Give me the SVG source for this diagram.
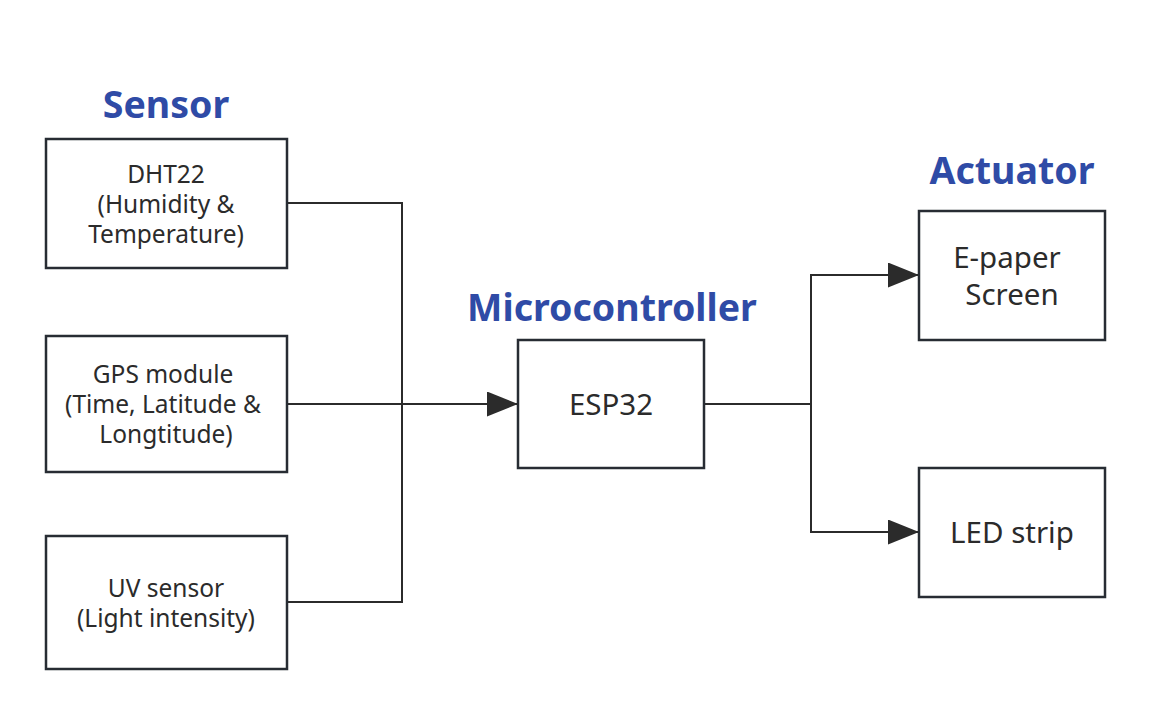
<svg xmlns="http://www.w3.org/2000/svg" width="1152" height="716" viewBox="0 0 1152 716">
<style>
.box{fill:#fff;stroke:#272c33;stroke-width:2.5}
.t{font-family:"Noto Sans","Open Sans","Liberation Sans",sans-serif;fill:#2b2b2b;text-anchor:middle}
.s{font-size:24.5px}
.m{font-size:29.5px}
.h{font-family:"Noto Sans","Open Sans","Liberation Sans",sans-serif;font-weight:bold;font-size:37.5px;fill:#2f4ba6;text-anchor:middle}
.c{fill:none;stroke:#2b2b2b;stroke-width:2}
</style>
<defs>
<marker id="arr" markerWidth="32" markerHeight="26" refX="31" refY="12.5" orient="auto" markerUnits="userSpaceOnUse">
<path d="M0,0 L31,12.5 L0,25 Z" fill="#2b2b2b"/>
</marker>
</defs>
<rect width="1152" height="716" fill="#fff"/>
<text class="h" x="166" y="118">Sensor</text>
<text class="h" x="612" y="321">Microcontroller</text>
<text class="h" x="1012" y="184">Actuator</text>
<g id="connectors">
<polyline class="c" points="287,203 402,203 402,602 287,602"/>
<line class="c" x1="287" y1="404" x2="518" y2="404" marker-end="url(#arr)"/>
<line class="c" x1="704" y1="404" x2="811" y2="404"/>
<polyline class="c" points="811,404 811,275 919,275" marker-end="url(#arr)"/>
<polyline class="c" points="811,404 811,532 919,532" marker-end="url(#arr)"/>
</g>
<g id="dht22">
<rect class="box" x="46" y="139" width="241" height="129"/>
<text class="t s" x="166" y="183">DHT22</text>
<text class="t s" x="166" y="213">(Humidity &amp;</text>
<text class="t s" x="166" y="243">Temperature)</text>
</g>
<g id="gps">
<rect class="box" x="46" y="336" width="241" height="136"/>
<text class="t s" x="163" y="383">GPS module</text>
<text class="t s" x="163" y="413">(Time, Latitude &amp;</text>
<text class="t s" x="166" y="443">Longtitude)</text>
</g>
<g id="uv">
<rect class="box" x="46" y="536" width="241" height="133"/>
<text class="t s" x="166" y="597">UV sensor</text>
<text class="t s" x="166" y="627">(Light intensity)</text>
</g>
<g id="esp32">
<rect class="box" x="518" y="340" width="186" height="128"/>
<text class="t m" x="611" y="415">ESP32</text>
</g>
<g id="epaper">
<rect class="box" x="919" y="211" width="186" height="129"/>
<text class="t m" x="1007" y="268">E-paper</text>
<text class="t m" x="1012" y="305">Screen</text>
</g>
<g id="led">
<rect class="box" x="919" y="468" width="186" height="129"/>
<text class="t m" x="1012" y="543">LED strip</text>
</g>
</svg>
